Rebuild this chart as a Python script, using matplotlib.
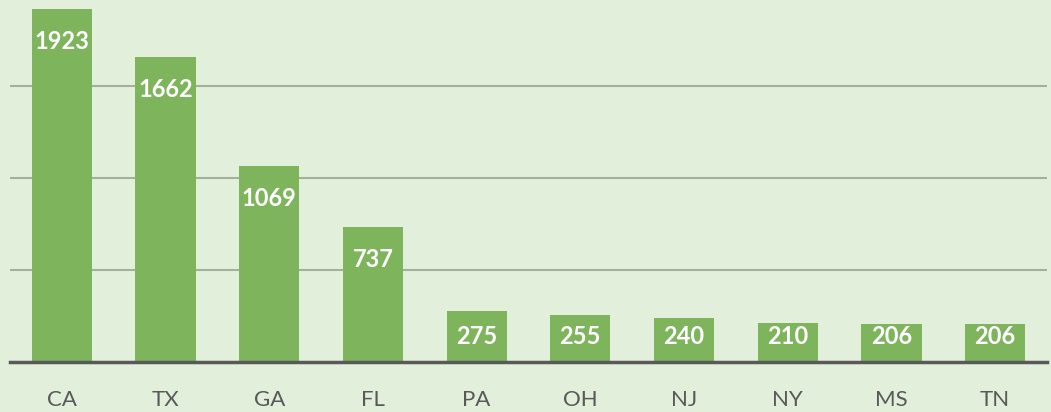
import matplotlib
matplotlib.use('Agg')
import matplotlib.pyplot as plt

# data
states = ['CA', 'TX', 'GA', 'FL', 'PA', 'OH', 'NJ', 'NY', 'MS', 'TN']
counts = [1923, 1662, 1069, 737, 275, 255, 240, 210, 206, 206]
grid_values = [500, 1000, 1500]

bg = '#E2EFDA'
bar_color = '#7DB45C'

plt.rcParams['font.family'] = ['Lato', 'DejaVu Sans']

fig = plt.figure(figsize=(10.51, 4.12), dpi=100)
fig.patch.set_facecolor(bg)
ax = fig.add_axes([10 / 1051, 50 / 412, 1037 / 1051, 362 / 412])
ax.set_facecolor(bg)

x = range(len(states))
ax.bar(x, counts, width=0.58, color=bar_color, zorder=3)

# gridlines
for g in grid_values:
    ax.axhline(g, color='#A3B09B', linewidth=1.5, zorder=1)

ax.set_xlim(-0.5, len(states) - 0.5)
ax.set_ylim(0, 1970)

# value labels: near top of bar, but not lower than a floor for short bars
for i, v in enumerate(counts):
    top_px = v * 362 / 1970
    if top_px - 33 > 26:
        ax.annotate(str(v), (i, v), xytext=(0, -33), textcoords='offset pixels',
                    ha='center', va='center', color='white', fontsize=17,
                    fontweight='bold', zorder=4)
    else:
        ax.annotate(str(v), (i, 0), xytext=(0, 26), textcoords='offset pixels',
                    ha='center', va='center', color='white', fontsize=17,
                    fontweight='bold', zorder=4)

for s in ['top', 'right', 'left']:
    ax.spines[s].set_visible(False)
ax.spines['bottom'].set_color('#595959')
ax.spines['bottom'].set_linewidth(2.5)
ax.spines['bottom'].set_zorder(5)

ax.set_yticks([])
ax.set_xticks(list(x))
ax.set_xticklabels(states, fontsize=16, color='#595959')
ax.tick_params(axis='x', length=0, pad=20)

fig.savefig('out.png', dpi=100, facecolor=bg)
